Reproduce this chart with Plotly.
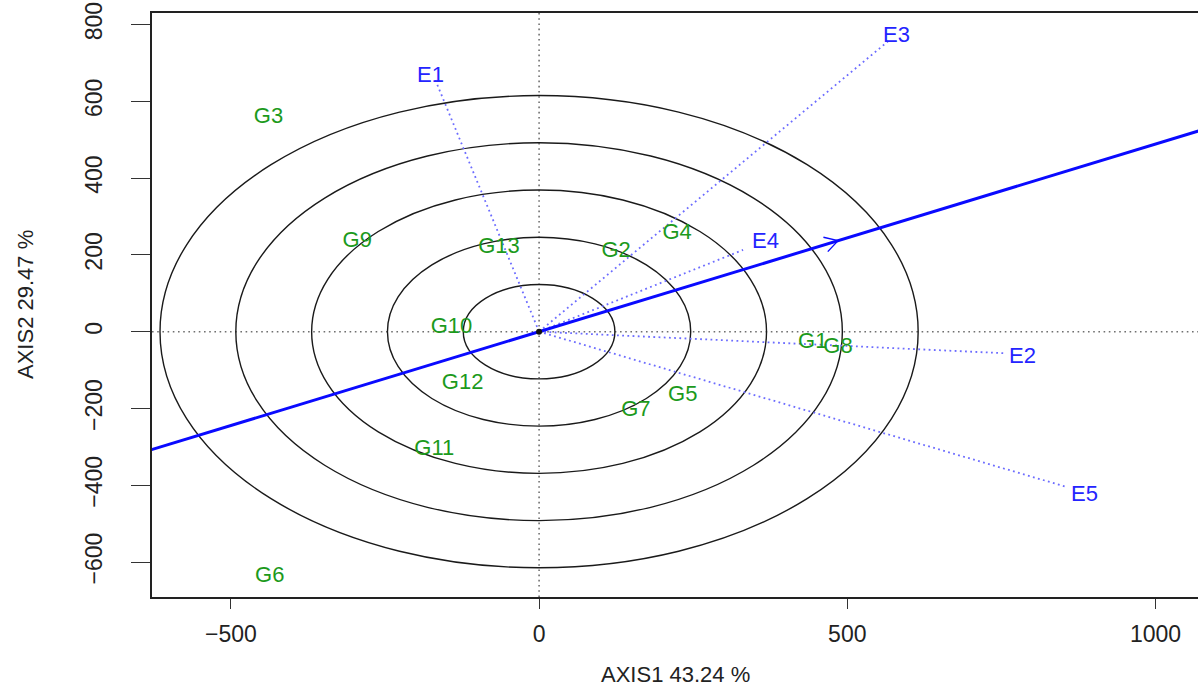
import numpy as np
import plotly.graph_objects as go

# ---------------- data ----------------
genotypes = ["G1", "G2", "G3", "G4", "G5", "G6", "G7", "G8", "G9", "G10", "G11", "G12", "G13"]
gen_x = [444, 125, -439, 224, 233, -437, 157, 485, -295, -142, -170, -124, -65]
gen_y = [-27, 210, 557, 257, -165, -637, -204, -40, 234, 10, -306, -136, 218]

environments = ["E1", "E2", "E3", "E4", "E5"]
env_x = [-170, 753, 566, 331, 857]
env_y = [662, -56, 756, 213, -405]

aea_x, aea_y = 485, 237          # average-environment axis arrow point
circle_radii = [123, 246, 369, 492, 615]

x_ticks = [-500, 0, 500, 1000]
y_ticks = [-600, -400, -200, 0, 200, 400, 600, 800]
x_title = "AXIS1 43.24 %"
y_title = "AXIS2 29.47 %"

# ---------------- layout constants ----------------
W, H = 1198, 689
ML, MR, MT, MB = 152, 0, 13, 92
XR = [-628, 1069]
YR = [-691, 830]
FONT = "Liberation Sans, Arial, Helvetica, sans-serif"
ENV_COLOR_LINE = "#6c6cff"
ENV_COLOR_TEXT = "#2424ff"
GEN_COLOR = "#1c9a1c"
env_shift = [(-4, 3), (19, -2), (9, 7), (22, 9), (17, -6)]

pw = W - ML - MR
ph = H - MT - MB

fig = go.Figure()

# concentric circles
for r in circle_radii:
    fig.add_shape(type="circle", xref="x", yref="y", x0=-r, x1=r, y0=-r, y1=r,
                  line=dict(color="#1a1a1a", width=1.4), layer="below")

# dotted zero lines
fig.add_shape(type="line", xref="x", yref="y domain", x0=0, x1=0, y0=0, y1=1,
              line=dict(color="#707070", width=1.6, dash="1.6px,3.6px"), layer="below")
fig.add_shape(type="line", xref="x domain", yref="y", x0=0, x1=1, y0=0, y1=0,
              line=dict(color="#707070", width=1.6, dash="1.6px,3.6px"), layer="below")

# environment vectors
for ex, ey in zip(env_x, env_y):
    fig.add_trace(go.Scatter(x=[0, ex], y=[0, ey], mode="lines",
                             line=dict(color=ENV_COLOR_LINE, width=1.8, dash="1.8px,3.4px"),
                             hoverinfo="skip", showlegend=False))

# average environment axis line (through origin)
k = 5
fig.add_trace(go.Scatter(x=[-k * aea_x, k * aea_x], y=[-k * aea_y, k * aea_y], mode="lines",
                         line=dict(color="#0a0aff", width=3), hoverinfo="skip", showlegend=False))

# arrowhead (open chevron) at aea point, computed in pixel space
sx = pw / (XR[1] - XR[0])
sy = ph / (YR[1] - YR[0])
ang = np.arctan2(aea_y * sy, aea_x * sx)
L = 15
hx = [aea_x + L * np.cos(ang + np.radians(150)) / sx, aea_x,
      aea_x + L * np.cos(ang - np.radians(150)) / sx]
hy = [aea_y + L * np.sin(ang + np.radians(150)) / sy, aea_y,
      aea_y + L * np.sin(ang - np.radians(150)) / sy]
fig.add_trace(go.Scatter(x=hx, y=hy, mode="lines", line=dict(color="#0a0aff", width=1.4),
                         hoverinfo="skip", showlegend=False))

# origin point
fig.add_trace(go.Scatter(x=[0], y=[0], mode="markers", marker=dict(color="#111", size=6),
                         hoverinfo="skip", showlegend=False))

# genotype labels
fig.add_trace(go.Scatter(x=gen_x, y=gen_y, mode="text", text=genotypes,
                         textposition="middle center", cliponaxis=False,
                         textfont=dict(family=FONT, size=22, color=GEN_COLOR),
                         hoverinfo="skip", showlegend=False))

# environment labels
for name, ex, ey, (dx, dy) in zip(environments, env_x, env_y, env_shift):
    fig.add_annotation(x=ex, y=ey, xref="x", yref="y", text=name, showarrow=False,
                       xshift=dx, yshift=dy, xanchor="center", yanchor="middle",
                       font=dict(family=FONT, size=22, color=ENV_COLOR_TEXT))

# axis titles
fig.add_annotation(text=x_title, xref="paper", yref="paper", x=0.5, y=(H - MB - 674) / ph,
                   showarrow=False, xanchor="center", yanchor="middle",
                   font=dict(family=FONT, size=22, color="#222"))
fig.add_annotation(text=y_title, xref="paper", yref="paper", x=(25 - ML) / pw, y=0.5,
                   showarrow=False, xanchor="center", yanchor="middle", textangle=-90,
                   font=dict(family=FONT, size=22, color="#222"))

fig.update_layout(
    width=W, height=H,
    margin=dict(l=ML, r=MR, t=MT, b=MB, pad=0),
    paper_bgcolor="white", plot_bgcolor="white",
    showlegend=False,
    xaxis=dict(range=XR, tickvals=x_ticks, ticks="outside", ticklen=10, tickwidth=1.4,
               tickcolor="#333", showline=True, linecolor="#222", linewidth=1.6, mirror=True,
               showgrid=False, zeroline=False, ticklabelstandoff=6,
               tickfont=dict(family=FONT, size=23, color="#222")),
    yaxis=dict(range=YR, tickvals=y_ticks, ticks="outside", ticklen=19, tickwidth=1.4,
               tickcolor="#333", showline=True, linecolor="#222", linewidth=1.6, mirror=False,
               showgrid=False, zeroline=False, tickangle=-90, ticklabelstandoff=20,
               tickfont=dict(family=FONT, size=23, color="#222")),
)

fig.write_html("out.html")
